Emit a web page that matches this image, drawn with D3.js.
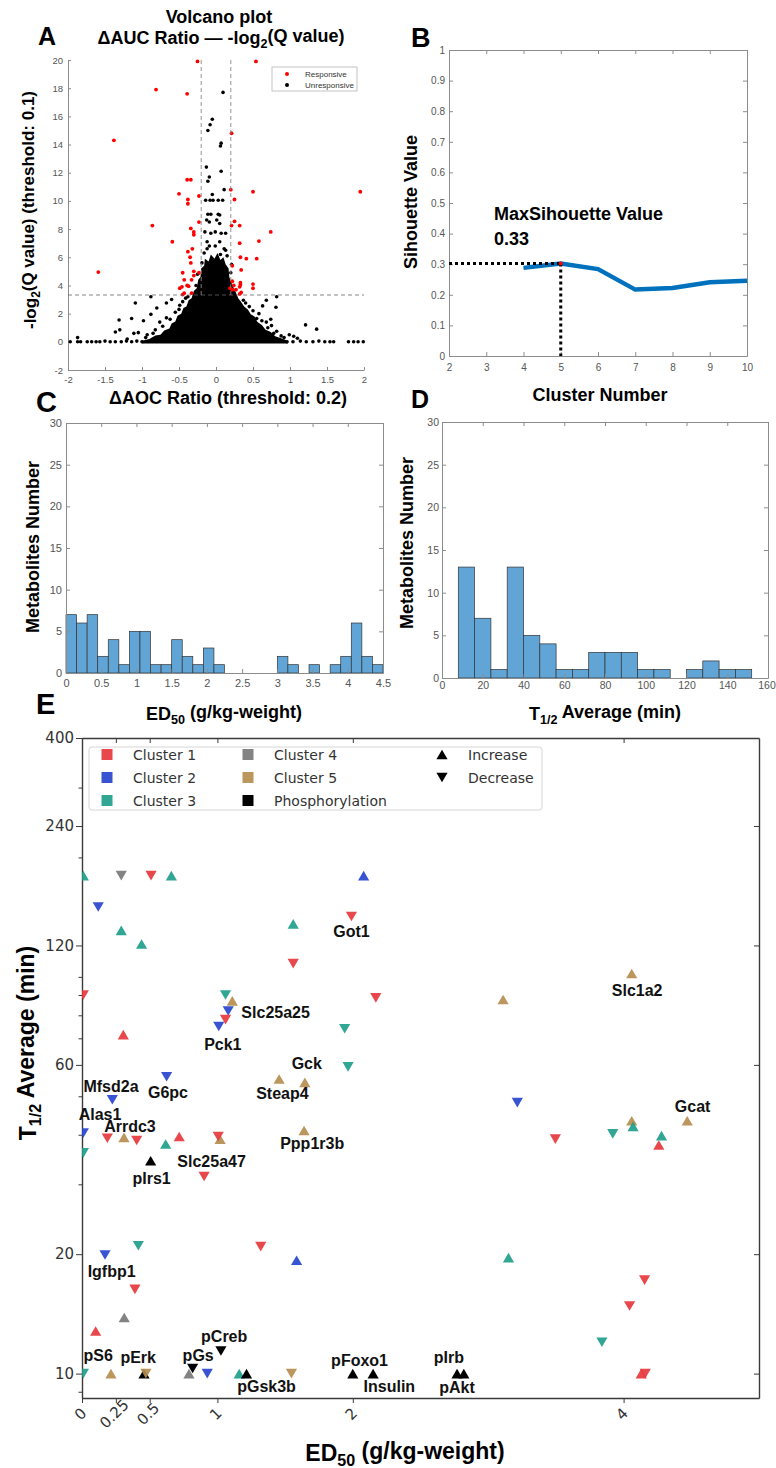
<!DOCTYPE html>
<html>
<head>
<meta charset="utf-8">
<script src="https://cdn.jsdelivr.net/npm/d3@7"></script>
<style>
body { margin: 0; background: #fff; }
svg { display: block; font-family: "Liberation Sans", Arial, sans-serif; }
</style>
</head>
<body>
<svg id="fig" width="776" height="1468"></svg>
<script>
// ---------------- data ----------------
// A: volcano plot
var volcanoXTicks = [-2, -1.5, -1, -0.5, 0, 0.5, 1, 1.5, 2]
var volcanoYTicks = [-2, 0, 2, 4, 6, 8, 10, 12, 14, 16, 18, 20]
var qThreshold = 0.1
var ratioThreshold = 0.2
var responsivePts = [
  [-0.25,19.9],[0.54,19.9],[-0.81,17.9],[-0.39,17.6],[-1.38,14.3],[0.21,14.8],[-0.39,11.5],[-0.34,11.5],
  [-0.5,10.5],[-0.38,10.1],[-0.23,10.35],[-0.38,9.8],[0.2,10.8],[0.25,10.1],[0.5,10.65],[1.95,10.65],
  [-0.86,8.25],[-0.23,8.5],[-0.34,8.05],[-0.3,7.8],[-0.3,7.6],[0.25,8.55],[0.32,8.25],[0.21,8.25],
  [0.74,7.8],[-0.59,7.1],[0.58,7.15],[0.32,7.0],[-0.38,6.4],[-0.32,6.6],[-0.35,6.0],[-0.34,5.6],
  [0.33,6.0],[0.41,5.9],[0.55,5.9],[0.22,5.4],[0.34,5.1],[-1.59,4.95],[-0.45,4.9],[-0.3,5.0],
  [-0.23,4.9],[-0.3,4.7],[-0.43,4.4],[-0.33,4.4],[0.22,4.3],[0.24,4.0],[0.33,4.2],[0.5,4.1],
  [0.5,3.8],[-0.49,3.8],[-0.46,3.9],[-0.39,4.0],[-0.37,3.95],[0.19,3.8],[0.32,3.9],[0.33,4.05],
  [-0.45,3.35],[-0.43,3.45],[-0.33,3.45],[0.32,3.4],[0.34,3.5],[0.27,3.7],[0.22,3.7]
]
var unresponsivePts = [
  [0.095,17.7],[-0.05,15.8],[-0.08,15.4],[-0.11,15.0],[0.07,14.1],[0.06,13.9],[-0.13,12.4],[0.07,12.1],
  [-0.09,11.7],[-0.11,11.4],[0.11,10.8],[-0.05,10.45],[-0.14,10.05],[-0.08,10.05],[-0.04,10.05],[0.03,10.05],
  [0.09,10.05],[-0.11,9.05],[-0.07,9.05],[0.03,9.05],[0.05,9.0],[-0.126,8.65],[-0.09,8.5],[0.01,8.65],
  [0.05,8.4],[-0.15,7.8],[-0.07,7.7],[-0.01,7.8],[0.07,7.7],[0.13,7.7],[-0.12,7.1],[-0.09,6.8],
  [-0.01,6.8],[0.05,7.1],[0.11,6.6],[-0.16,6.3],[0.06,6.2],[0.13,6.5],[-0.12,6.6],[0.15,6.1],
  [-0.88,3.2],[-1.09,2.75],[-0.8,2.4],[-1.31,1.55],[-1.14,1.65],[-0.98,1.5],[-0.88,1.95],[-1.36,0.7],
  [-1.3,0.85],[-1.11,0.6],[-1.05,0.65],[1.21,1.2],[1.36,0.9],[0.82,3.2],[0.68,2.95],[0.63,2.55],
  [0.81,2.45],[0.74,1.6],[0.82,0.75],[0.99,0.5],[1.05,0.4],[-0.67,2.75],[-0.6,3.0],[-0.49,2.6],
  [-0.38,3.2],[0.27,3.1],[0.37,2.95],[0.45,2.5],[0.58,2.0],[0.68,1.4],[0.75,1.15],[-0.76,1.4],
  [-0.67,1.7],[-0.82,0.85],[-0.93,0.5],[-1.87,0.3],[-1.2,0.2],[1.1,0.25],
  [-0.72,1.1],[-0.62,1.6],[-0.55,2.1],[-0.5,2.3],[-0.45,2.85],[-0.41,3.1],[0.4,2.75],[0.5,2.2],
  [0.55,1.65],[0.62,1.5],[0.7,1.0],[0.78,0.6],[0.88,0.42],[-0.85,0.6],[-0.95,0.3],[0.92,0.3],
  [-0.27,4.0],[-0.25,4.8],[0.2,4.9],[0.21,5.5],[-0.19,5.6],
  [-1.97,0],[-1.87,0],[-1.83,0],[-1.74,0],[-1.68,0],[-1.62,0],[-1.57,0],[-1.5,0.05],[-1.43,0],
  [-1.36,0],[-1.28,0],[-1.21,0.05],[-1.14,0],[-1.07,0.05],[-1.0,0],[0.96,0],[1.04,0],[1.14,0.05],
  [1.22,0],[1.31,0],[1.39,0.05],[1.47,0],[1.54,0],[1.59,0],[1.79,0],[1.86,0],[1.92,0],[1.99,0]
]
// outline of the solid black mass around the origin
var denseCore = [
  [-1.0,-0.12],[-1.0,0.08],[-0.9,0.2],[-0.82,0.45],[-0.75,0.5],[-0.7,0.8],[-0.63,0.95],[-0.6,1.3],
  [-0.55,1.45],[-0.52,1.85],[-0.47,2.0],[-0.44,2.4],[-0.4,2.5],[-0.37,2.95],[-0.33,3.1],[-0.3,3.6],
  [-0.26,3.8],[-0.24,4.4],[-0.21,4.6],[-0.2,5.2],[-0.16,5.4],[-0.15,5.9],[-0.1,5.7],[-0.07,6.2],
  [-0.02,5.9],[0.02,6.3],[0.06,5.8],[0.1,6.0],[0.13,5.5],[0.17,5.2],[0.18,4.6],[0.2,4.3],
  [0.23,3.9],[0.26,3.6],[0.3,3.1],[0.33,2.9],[0.38,2.5],[0.43,2.3],[0.47,1.95],[0.52,1.8],
  [0.56,1.4],[0.62,1.2],[0.67,0.85],[0.74,0.7],[0.8,0.4],[0.88,0.25],[0.97,0.08],[0.97,-0.12]
]

// B: silhouette
var clusterK = [4, 5, 6, 7, 8, 9, 10]
var silhouette = [0.288, 0.302, 0.284, 0.217, 0.222, 0.241, 0.246]
var bestK = 5
var bestSil = 0.302

// C: ED50 histogram (bins of 0.15 from 0)
var ed50BinWidth = 0.15
var ed50Counts = [7,6,7,2,4,1,5,5,1,1,4,2,1,3,1,0,0,0,0,0,2,1,0,1,0,1,2,6,2,1]

// D: T1/2 histogram (bins of 8 from 8)
var t12BinStart = 8
var t12BinWidth = 8
var t12Counts = [13,7,1,13,5,4,1,1,3,3,3,1,1,0,1,2,1,1]

// E: ED50 vs T1/2
var clusterNames = ['Cluster 1', 'Cluster 2', 'Cluster 3', 'Cluster 4', 'Cluster 5', 'Phosphorylation']
var clusterColors = ['#e6383c', '#2745cf', '#1f9e8b', '#787878', '#b58d4f', '#000000']
var directionNames = ['Increase', 'Decrease']
// [cluster (1-5, 6 = phosphorylation), 'u' increase / 'd' decrease, ED50, T1/2]
var ePoints = [
  [3,'u',0.01,180],[4,'d',0.29,180],[1,'d',0.51,180],[3,'u',0.66,180],[2,'u',2.08,180],
  [2,'d',0.12,150],[3,'u',0.29,131],[3,'u',0.44,121],[3,'u',1.56,136],[1,'d',1.99,142],
  [1,'d',1.56,108],[5,'u',4.06,102],[1,'d',0.01,90],[1,'d',2.17,88.5],[3,'d',1.06,90],
  [5,'u',1.11,87],[2,'d',1.08,82],[1,'d',1.06,78],[2,'d',1.01,75],[1,'u',0.305,71.5],
  [3,'d',1.94,74],[3,'d',1.965,59.3],[5,'u',1.456,55.3],[5,'u',1.646,54.2],[2,'d',0.625,56],
  [2,'d',0.224,49],[2,'d',0.01,40.4],[1,'d',0.187,39.2],[5,'u',0.31,39.4],[1,'d',0.404,38.7],
  [1,'u',0.718,39.6],[5,'u',1.02,39],[1,'d',1.006,39.6],[3,'u',0.618,37.9],[3,'d',0.01,36],
  [5,'u',1.64,41],[6,'u',0.507,34.4],[1,'d',0.902,31.4],[5,'u',3.11,87.7],[2,'d',3.215,48.2],
  [1,'d',3.496,39],[3,'d',3.92,40.2],[5,'u',4.06,43.4],[3,'u',4.07,42],[3,'u',4.28,39.8],
  [1,'u',4.26,37.7],[5,'u',4.47,43.4],[2,'d',0.17,19.9],[3,'d',0.416,21],[1,'d',1.32,20.9],
  [2,'u',1.585,19.3],[1,'d',0.391,16.3],[4,'u',0.312,13.85],[1,'u',0.101,12.8],[3,'d',0.01,10],
  [5,'u',0.214,10],[6,'u',0.458,10],[5,'d',0.472,10],[4,'u',0.79,10],[6,'d',0.817,10.3],
  [2,'d',0.925,10],[6,'d',1.026,11.4],[3,'u',1.161,10],[6,'u',1.215,10],[5,'d',1.547,10],
  [6,'u',2.0,10],[6,'u',2.15,10],[6,'u',2.77,10],[6,'u',2.82,10],[3,'u',3.15,19.6],
  [1,'d',4.155,17.2],[1,'d',4.044,14.8],[3,'d',3.84,12],[1,'u',4.13,10],[1,'d',4.16,10]
]
// [name, ED50, T1/2] centre of each annotation
var eLabels = [
  ['Got1',1.99,130.4],['Slc1a2',4.10,92.5],['Slc25a25',1.43,81.4],['Pck1',1.04,67.5],
  ['Gck',1.66,60.4],['Steap4',1.48,50.7],['G6pc',0.635,51.1],['Mfsd2a',0.214,52.8],
  ['Alas1',0.133,44.9],['Arrdc3',0.354,42],['Ppp1r3b',1.70,38.1],['pIrs1',0.514,31.1],
  ['Slc25a47',0.957,34.2],['Gcat',4.51,47],['Igfbp1',0.219,18.05],['pS6',0.12,11.1],
  ['pErk',0.415,10.95],['pGs',0.858,11.1],['pCreb',1.05,12.4],['pGsk3b',1.363,9.29],
  ['pFoxo1',2.05,10.8],['Insulin',2.27,9.29],['pIrb',2.71,11.0],['pAkt',2.77,9.25]
]
var eXTicks = [0, 0.25, 0.5, 1, 2, 4]
var eYTicks = [10, 20, 60, 120, 240, 400]
var eYMinor = [9, 30, 40, 50, 70, 80, 90, 100, 200, 300]

// ---------------- helpers ----------------
var svg = d3.select('#fig')
var BOLD = '"Liberation Sans", Arial, sans-serif'
var DEJAVU = '"DejaVu Sans", sans-serif'

function styleAxis(g, fs, col, tcol, family) {
    g.attr('font-family', null).attr('font-size', null)
    g.select('.domain').attr('stroke', col)
    g.selectAll('.tick line').attr('stroke', col)
    g.selectAll('.tick text').attr('fill', tcol)
        .style('font-size', fs + 'px').style('font-family', family)
}

// MATLAB style box with inward ticks
function matlabBox(g, x, y, xt, yt, o) {
    var r = x.range(), d = y.range()
    var fmt = function(v) { return String(v) }
    var parts = [
        g.append('g').attr('transform', 'translate(0,' + d[0] + ')')
            .call(d3.axisBottom(x).tickValues(xt).tickSize(-o.tick).tickSizeOuter(0).tickPadding(o.padX).tickFormat(fmt)),
        g.append('g').attr('transform', 'translate(' + r[0] + ',0)')
            .call(d3.axisLeft(y).tickValues(yt).tickSize(-o.tick).tickSizeOuter(0).tickPadding(o.padY).tickFormat(fmt))
    ]
    if (o.box) {
        parts.push(g.append('g').attr('transform', 'translate(0,' + d[1] + ')')
            .call(d3.axisTop(x).tickValues(xt).tickSize(-o.tick).tickSizeOuter(0).tickFormat('')))
        parts.push(g.append('g').attr('transform', 'translate(' + r[1] + ',0)')
            .call(d3.axisRight(y).tickValues(yt).tickSize(-o.tick).tickSizeOuter(0).tickFormat('')))
    }
    parts.forEach(function(a) { styleAxis(a, o.fs, '#8c8c8c', '#555', BOLD) })
    return parts
}

function boldText(x, y, size, rot) {
    var t = svg.append('text')
        .attr('font-family', BOLD).attr('font-weight', 'bold')
        .attr('font-size', size).attr('fill', '#000')
        .attr('text-anchor', 'middle')
    if (rot) t.attr('transform', 'translate(' + x + ',' + y + ') rotate(-90)')
    else t.attr('x', x).attr('y', y)
    return t
}
function sub(t, s) {
    t.append('tspan').attr('font-size', '70%').attr('dy', '0.3em').text(s)
    return t.append('tspan').attr('dy', '-0.3em')
}

// ---------------- panel A ----------------
var ax = d3.scaleLinear().domain([-2, 2]).range([68, 364])
var ay = d3.scaleLinear().domain([-2, 20]).range([370, 60])
var gA = svg.append('g')
matlabBox(gA, ax, ay, volcanoXTicks, volcanoYTicks, {tick: 3, padX: 6, padY: 5, fs: 9.5, box: false})

gA.append('path')
    .attr('d', d3.line().x(function(d) { return ax(d[0]) }).y(function(d) { return ay(d[1]) })(denseCore) + 'Z')
    .attr('fill', '#000')
gA.selectAll('circle.un').data(unresponsivePts).enter().append('circle')
    .attr('class', 'un').attr('r', 1.8)
    .attr('cx', function(d) { return ax(d[0]) }).attr('cy', function(d) { return ay(d[1]) })
    .attr('fill', '#000')
gA.selectAll('circle.re').data(responsivePts).enter().append('circle')
    .attr('class', 're').attr('r', 1.9)
    .attr('cx', function(d) { return ax(d[0]) }).attr('cy', function(d) { return ay(d[1]) })
    .attr('fill', '#ff0000')

var qLine = -Math.log2(qThreshold)
gA.append('line').attr('x1', ax(-2)).attr('x2', ax(2)).attr('y1', ay(qLine)).attr('y2', ay(qLine))
    .attr('stroke', '#666').attr('stroke-width', 0.8).attr('stroke-dasharray', '4,3')
;[-ratioThreshold, ratioThreshold].forEach(function(v) {
    gA.append('line').attr('x1', ax(v)).attr('x2', ax(v)).attr('y1', ay(20)).attr('y2', ay(3.3))
        .attr('stroke', '#888').attr('stroke-width', 0.9).attr('stroke-dasharray', '4,3')
})

var legA = gA.append('g')
legA.append('rect').attr('x', 272).attr('y', 67).attr('width', 85).attr('height', 24)
    .attr('fill', '#fff').attr('stroke', '#aaa').attr('stroke-width', 0.7)
;[['Responsive', '#ff0000'], ['Unresponsive', '#000']].forEach(function(d, i) {
    legA.append('circle').attr('cx', 287).attr('cy', 74 + i * 11).attr('r', 2).attr('fill', d[1])
    legA.append('text').attr('x', 305).attr('y', 74 + i * 11).attr('dominant-baseline', 'central')
        .attr('font-size', 8).attr('fill', '#333').text(d[0])
})

svg.append('text').attr('x', 38).attr('y', 45).attr('font-weight', 'bold').attr('font-size', 25).text('A')
boldText(219, 23, 18).text('Volcano plot')
sub(boldText(221, 44, 18).text('\u0394AUC Ratio \u2014 -log'), '2').text('(Q value)')
sub(boldText(36, 210, 17, true).text('-log'), '2').text('(Q value) (threshold: 0.1)')
boldText(228, 404, 18).text('\u0394AOC Ratio (threshold: 0.2)')

// ---------------- panel B ----------------
var bx = d3.scaleLinear().domain([2, 10]).range([449, 747])
var by = d3.scaleLinear().domain([0, 1]).range([356, 50])
var gB = svg.append('g')
matlabBox(gB, bx, by, d3.range(2, 11), d3.range(0, 11).map(function(v) { return v / 10 }),
    {tick: 4, padX: 8, padY: 4, fs: 10, box: true})
gB.append('path')
    .datum(clusterK.map(function(k, i) { return [k, silhouette[i]] }))
    .attr('d', d3.line().x(function(d) { return bx(d[0]) }).y(function(d) { return by(d[1]) }))
    .attr('fill', 'none').attr('stroke', '#0072BD').attr('stroke-width', 4.5)
gB.append('line').attr('x1', bx(2)).attr('x2', bx(bestK)).attr('y1', by(bestSil)).attr('y2', by(bestSil))
    .attr('stroke', '#000').attr('stroke-width', 3).attr('stroke-dasharray', '3,3')
gB.append('line').attr('x1', bx(bestK)).attr('x2', bx(bestK)).attr('y1', by(bestSil)).attr('y2', by(0))
    .attr('stroke', '#000').attr('stroke-width', 3).attr('stroke-dasharray', '3,3')
gB.append('circle').attr('cx', bx(bestK)).attr('cy', by(bestSil)).attr('r', 2).attr('fill', '#ff0000')
svg.append('text').attr('x', 494).attr('y', 220).attr('font-weight', 'bold').attr('font-size', 18).text('MaxSihouette Value')
svg.append('text').attr('x', 494).attr('y', 245).attr('font-weight', 'bold').attr('font-size', 18).text('0.33')
svg.append('text').attr('x', 411).attr('y', 47).attr('font-weight', 'bold').attr('font-size', 27).text('B')
boldText(417, 202, 18, true).text('Sihouette Value')
boldText(600, 401, 18).text('Cluster Number')

// ---------------- panel C ----------------
var cx = d3.scaleLinear().domain([0, 4.5]).range([66, 383])
var cy = d3.scaleLinear().domain([0, 30]).range([673, 423])
var gC = svg.append('g')
gC.selectAll('rect').data(ed50Counts).enter().append('rect')
    .attr('x', function(d, i) { return cx(i * ed50BinWidth) })
    .attr('width', cx(ed50BinWidth) - cx(0))
    .attr('y', function(d) { return cy(d) })
    .attr('height', function(d) { return cy(0) - cy(d) })
    .attr('fill', '#61a5d6').attr('stroke', '#333').attr('stroke-width', 0.7)
matlabBox(gC, cx, cy, d3.range(0, 10).map(function(v) { return v / 2 }), d3.range(0, 31, 5),
    {tick: 4, padX: 6, padY: 4, fs: 11, box: true})
svg.append('text').attr('x', 36).attr('y', 412).attr('font-weight', 'bold').attr('font-size', 29).text('C')
boldText(39, 547, 18, true).text('Metabolites Number')
sub(boldText(224, 720, 18).text('ED'), '50').text(' (g/kg-weight)')

// ---------------- panel D ----------------
var dx = d3.scaleLinear().domain([0, 160]).range([442, 768])
var dy = d3.scaleLinear().domain([0, 30]).range([678, 422])
var gD = svg.append('g')
gD.selectAll('rect').data(t12Counts).enter().append('rect')
    .attr('x', function(d, i) { return dx(t12BinStart + i * t12BinWidth) })
    .attr('width', dx(t12BinWidth) - dx(0))
    .attr('y', function(d) { return dy(d) })
    .attr('height', function(d) { return dy(0) - dy(d) })
    .attr('fill', '#61a5d6').attr('stroke', '#333').attr('stroke-width', 0.7)
var dAxes = matlabBox(gD, dx, dy, d3.range(0, 161, 20), d3.range(0, 31, 5),
    {tick: 4, padX: 4, padY: 3, fs: 10.5, box: true})
// keep the last tick label inside the page
dAxes[0].selectAll('.tick text').filter(function(v) { return v === 160 }).attr('dx', -1.5)
svg.append('text').attr('x', 411).attr('y', 408).attr('font-weight', 'bold').attr('font-size', 25).text('D')
boldText(413, 543, 18, true).text('Metabolites Number')
sub(boldText(605, 720, 18).text('T'), '1/2').text(' Average (min)')

// ---------------- panel E ----------------
var ex = d3.scaleLinear().domain([0, 5]).range([82, 759])
var ey = d3.scaleLog().domain([8.68, 400]).range([1398, 738])
var gE = svg.append('g')

var eBottom = gE.append('g').attr('transform', 'translate(0,1398)')
    .call(d3.axisBottom(ex).tickValues(eXTicks).tickSize(5).tickSizeOuter(0).tickFormat(function(v) { return String(v) }))
eBottom.selectAll('.tick text').attr('y', null).attr('dy', null)
    .attr('text-anchor', 'middle').attr('dominant-baseline', 'central')
    .attr('transform', 'translate(-2,16) rotate(-45)')
var eLeft = gE.append('g').attr('transform', 'translate(82,0)')
    .call(d3.axisLeft(ey).tickValues(eYTicks).tickSize(6).tickSizeOuter(0).tickPadding(2).tickFormat(function(v) { return String(v) }))
var eMinor = gE.append('g').attr('transform', 'translate(82,0)')
    .call(d3.axisLeft(ey).tickValues(eYMinor).tickSize(3.5).tickFormat(''))
eMinor.select('.domain').remove()
var eTop = gE.append('g').attr('transform', 'translate(0,738)')
    .call(d3.axisTop(ex).tickValues(eXTicks).tickSize(-5).tickSizeOuter(0).tickFormat(''))
var eRight = gE.append('g').attr('transform', 'translate(759,0)')
    .call(d3.axisRight(ey).tickValues(eYTicks).tickSize(-5).tickSizeOuter(0).tickFormat(''))
;[eBottom, eLeft, eMinor, eTop, eRight].forEach(function(a) {
    styleAxis(a, 15, '#3a3a3a', '#333', DEJAVU)
    a.select('.domain').attr('stroke-width', 1.4)
})

gE.append('clipPath').attr('id', 'clipE').append('rect')
    .attr('x', 82).attr('y', 738).attr('width', 677).attr('height', 660)

function tri(dir) {
    return dir === 'u' ? 'M0,-4.8L5.6,4.8L-5.6,4.8Z' : 'M0,4.8L5.6,-4.8L-5.6,-4.8Z'
}
gE.append('g').attr('clip-path', 'url(#clipE)')
    .selectAll('path').data(ePoints).enter().append('path')
    .attr('d', function(d) { return tri(d[1]) })
    .attr('transform', function(d) { return 'translate(' + ex(d[2]) + ',' + ey(d[3]) + ')' })
    .attr('fill', function(d) { return clusterColors[d[0] - 1] })
    .attr('fill-opacity', function(d) { return d[0] === 6 ? 1 : 0.92 })

gE.selectAll('text.lab').data(eLabels).enter().append('text')
    .attr('class', 'lab')
    .attr('x', function(d) { return ex(d[1]) }).attr('y', function(d) { return ey(d[2]) })
    .attr('text-anchor', 'middle').attr('dominant-baseline', 'central')
    .attr('font-weight', 'bold').attr('font-size', 16).attr('fill', '#111')
    .text(function(d) { return d[0] })

// legend
var legE = gE.append('g').attr('font-family', DEJAVU)
legE.append('rect').attr('x', 89).attr('y', 747).attr('width', 453).attr('height', 63).attr('rx', 3)
    .attr('fill', '#fff').attr('fill-opacity', 0.9).attr('stroke', '#d6d6d6')
var rowY = [754.5, 777.5, 800.5]
var colX = [107, 248]
clusterNames.forEach(function(name, i) {
    var c = Math.floor(i / 3), r = i % 3
    legE.append('rect').attr('x', colX[c] - 5.5).attr('y', rowY[r] - 5.5).attr('width', 11).attr('height', 11)
        .attr('fill', clusterColors[i]).attr('fill-opacity', i === 5 ? 1 : 0.92)
    legE.append('text').attr('x', colX[c] + 26).attr('y', rowY[r]).attr('dominant-baseline', 'central')
        .attr('font-size', 14).attr('fill', '#333').text(name)
})
directionNames.forEach(function(name, i) {
    legE.append('path').attr('d', tri(i === 0 ? 'u' : 'd'))
        .attr('transform', 'translate(442,' + rowY[i] + ')').attr('fill', '#000')
    legE.append('text').attr('x', 468).attr('y', rowY[i]).attr('dominant-baseline', 'central')
        .attr('font-size', 14).attr('fill', '#333').text(name)
})

svg.append('text').attr('x', 36).attr('y', 714).attr('font-weight', 'bold').attr('font-size', 29).text('E')
sub(boldText(36, 1043, 23, true).text('T'), '1/2').text(' Average (min)')
sub(boldText(405, 1461, 23).text('ED'), '50').text(' (g/kg-weight)')
</script>
</body>
</html>
